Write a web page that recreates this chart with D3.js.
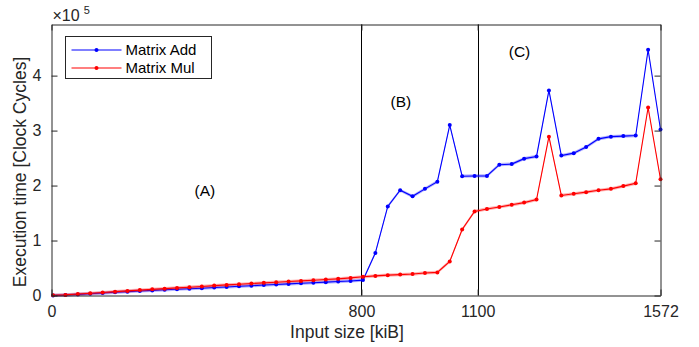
<!DOCTYPE html>
<html>
<head>
<meta charset="utf-8">
<script src="https://cdn.jsdelivr.net/npm/d3@7"></script>
<style>
  html, body { margin: 0; padding: 0; background: #fff; }
  svg { display: block; font-family: "Liberation Sans", Arial, Helvetica, sans-serif; }
</style>
</head>
<body>
<div id="chart"></div>
<script>
// input sizes in kiB (measured every 32 kiB starting at 4)
const sizes = [4, 36, 68, 100, 132, 164, 196, 228, 260, 292, 324, 356, 388, 420, 452, 484, 516, 548, 580, 612,
  644, 676, 708, 740, 772, 804, 836, 868, 900, 932, 964, 996, 1028, 1060, 1092, 1124, 1156, 1188, 1220, 1252,
  1284, 1316, 1348, 1380, 1412, 1444, 1476, 1508, 1540, 1572];

// execution time, units of 1e5 clock cycles
const matrixAdd = [0.002, 0.008, 0.020, 0.032, 0.045, 0.058, 0.070, 0.082, 0.093, 0.104, 0.115, 0.124, 0.133, 0.145,
  0.156, 0.167, 0.178, 0.190, 0.200, 0.211, 0.222, 0.232, 0.243, 0.254, 0.265, 0.280, 0.775, 1.620, 1.915, 1.805,
  1.940, 2.070, 3.100, 2.170, 2.175, 2.175, 2.380, 2.390, 2.490, 2.530, 3.730, 2.545, 2.590, 2.700, 2.850, 2.890,
  2.900, 2.910, 4.470, 3.020];
const matrixMul = [0.005, 0.011, 0.026, 0.040, 0.055, 0.070, 0.084, 0.098, 0.112, 0.125, 0.138, 0.151, 0.165, 0.180,
  0.193, 0.205, 0.218, 0.230, 0.242, 0.255, 0.266, 0.278, 0.291, 0.303, 0.320, 0.340, 0.357, 0.370, 0.380, 0.390,
  0.410, 0.420, 0.620, 1.200, 1.530, 1.575, 1.610, 1.650, 1.690, 1.745, 2.890, 1.820, 1.850, 1.880, 1.915, 1.940,
  1.990, 2.040, 3.420, 2.115];

const xTicks = [0, 800, 1100, 1572];
const yTicks = [0, 1, 2, 3, 4];
const boundaries = [800, 1100];
const regions = [
  { label: '(A)', x: 396, y: 1.81 },
  { label: '(B)', x: 902, y: 3.43 },
  { label: '(C)', x: 1208, y: 4.34 }
];
const seriesNames = ['Matrix Add', 'Matrix Mul'];
const seriesColors = ['#0000ff', '#ff0000'];

const W = 699, H = 347;
const margin = { top: 24.5, right: 38.5, bottom: 51.5, left: 51.5 };
const axisColor = '#262626';

const svg = d3.select('#chart').append('svg')
  .attr('width', W)
  .attr('height', H);

const x = d3.scaleLinear().domain([0, 1572]).range([margin.left, W - margin.right]);
const y = d3.scaleLinear().domain([0, 4.93]).range([H - margin.bottom, margin.top]);

// region boundaries
boundaries.forEach(b => {
  svg.append('line')
    .attr('x1', Math.round(x(b)) + 0.5).attr('x2', Math.round(x(b)) + 0.5)
    .attr('y1', y.range()[1]).attr('y2', y.range()[0])
    .attr('stroke', '#000')
    .attr('stroke-width', 1);
});

// series
const series = [matrixAdd, matrixMul];
series.forEach((vals, k) => {
  const pts = sizes.map((s, i) => [s, vals[i]]);
  const color = seriesColors[k];

  // faint spread band behind the line
  const band = d3.area()
    .x(d => x(d[0]))
    .y0(d => y(d[1]) - 1.6)
    .y1(d => y(d[1]) + 1.6);
  svg.append('path')
    .datum(pts)
    .attr('d', band)
    .attr('fill', color)
    .attr('fill-opacity', 0.3);

  const line = d3.line()
    .x(d => x(d[0]))
    .y(d => y(d[1]));
  svg.append('path')
    .datum(pts)
    .attr('d', line)
    .attr('fill', 'none')
    .attr('stroke', color)
    .attr('stroke-width', 1.1);

  svg.append('g').selectAll('circle')
    .data(pts)
    .join('circle')
    .attr('cx', d => x(d[0]))
    .attr('cy', d => y(d[1]))
    .attr('r', 2)
    .attr('fill', color);
});

// axes box
const xAxisB = d3.axisBottom(x).tickValues(xTicks).tickSizeInner(-6).tickSizeOuter(0).tickPadding(10).tickFormat(d3.format('d'));
const xAxisT = d3.axisTop(x).tickValues(xTicks).tickSizeInner(-6).tickSizeOuter(0).tickFormat('');
const yAxisL = d3.axisLeft(y).tickValues(yTicks).tickSizeInner(-6).tickSizeOuter(0).tickPadding(10).tickFormat(d3.format('d'));
const yAxisR = d3.axisRight(y).tickValues(yTicks).tickSizeInner(-6).tickSizeOuter(0).tickFormat('');

function styleAxis(g) {
  g.select('.domain').attr('stroke', axisColor);
  g.selectAll('.tick line').attr('stroke', axisColor);
  g.selectAll('.tick text')
    .attr('fill', axisColor)
    .style('font-size', '16px')
    .style('font-family', '"Liberation Sans", Arial, sans-serif');
}

svg.append('g').attr('transform', `translate(0,${y.range()[0]})`).call(xAxisB).call(styleAxis);
svg.append('g').attr('transform', `translate(0,${y.range()[1]})`).call(xAxisT).call(styleAxis);
svg.append('g').attr('transform', `translate(${x.range()[0]},0)`).call(yAxisL).call(styleAxis);
svg.append('g').attr('transform', `translate(${x.range()[1]},0)`).call(yAxisR).call(styleAxis);

// exponent label
const expo = svg.append('text')
  .attr('x', x.range()[0] + 1)
  .attr('y', 20.5)
  .attr('fill', axisColor)
  .style('font-size', '16px');
expo.append('tspan').text('\u00d710');
expo.append('tspan').attr('dx', 4).attr('dy', -7).style('font-size', '11px').text('5');

// axis titles
svg.append('text')
  .attr('x', 347)
  .attr('y', 338)
  .attr('text-anchor', 'middle')
  .attr('fill', axisColor)
  .style('font-size', '17.5px')
  .text('Input size [kiB]');

svg.append('text')
  .attr('transform', 'translate(26,172) rotate(-90)')
  .attr('text-anchor', 'middle')
  .attr('fill', axisColor)
  .style('font-size', '17.5px')
  .text('Execution time [Clock Cycles]');

// region labels
regions.forEach(r => {
  svg.append('text')
    .attr('x', x(r.x))
    .attr('y', y(r.y))
    .attr('text-anchor', 'middle')
    .attr('fill', '#000')
    .style('font-size', '15.5px')
    .text(r.label);
});

// legend
const legend = svg.append('g').attr('transform', 'translate(65.5,36.5)');
legend.append('rect')
  .attr('width', 146).attr('height', 42)
  .attr('fill', '#fff')
  .attr('stroke', axisColor)
  .attr('stroke-width', 1);
seriesNames.forEach((name, i) => {
  const yy = 13.5 + i * 18;
  legend.append('line')
    .attr('x1', 6).attr('x2', 56)
    .attr('y1', yy).attr('y2', yy)
    .attr('stroke', seriesColors[i])
    .attr('stroke-width', 1.1);
  legend.append('circle')
    .attr('cx', 31).attr('cy', yy).attr('r', 2)
    .attr('fill', seriesColors[i]);
  legend.append('text')
    .attr('x', 60).attr('y', yy + 5)
    .attr('fill', '#000')
    .style('font-size', '15px')
    .text(name);
});
</script>
</body>
</html>
